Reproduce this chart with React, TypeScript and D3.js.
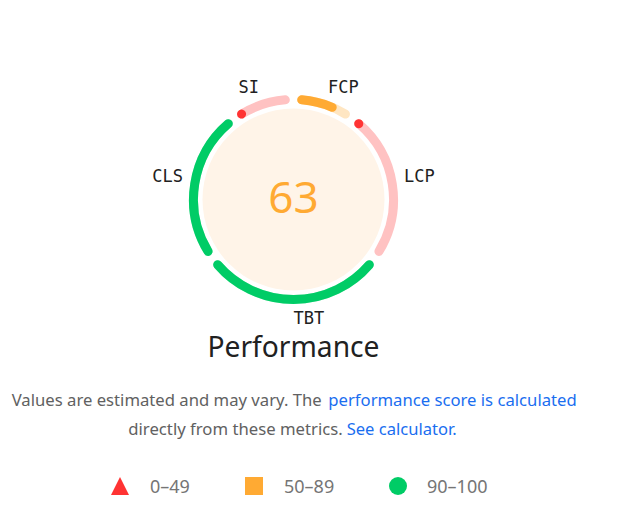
import * as d3 from "d3";

// metric order clockwise from 12 o'clock
const METRICS = ["FCP", "LCP", "TBT", "CLS", "SI"];
const WEIGHTS = [0.1, 0.25, 0.3, 0.25, 0.1];
const SCORES = [0.68, 0, 1, 1, 0];
const CATEGORY_SCORE = 63;
const CATEGORY_TITLE = "Performance";
const LEGEND_LABELS = ["0–49", "50–89", "90–100"];
const LEGEND_SHAPES = ["triangle", "square", "circle"];

const W = 631;
const H = 523;
const CX = 293.5;
const CY = 199.5;
const R_ARC = 100;
const STROKE = 9;
const R_FILL = 91;
const R_LABEL = 112;
const GAP = (4.7 * Math.PI) / 180;

const RED = "#ff3333";
const ORANGE = "#ffaa33";
const GREEN = "#00cc66";
const BLUE = "#1a6ef0";
const GRAY = "#616161";

const colorFor = (s: number) => (s >= 0.9 ? GREEN : s >= 0.5 ? ORANGE : RED);
const lighten = (c: string) => d3.interpolateRgb("#ffffff", c)(0.3);

const angle = d3.scaleLinear().domain([0, 1]).range([0, 2 * Math.PI]);

// angle measured clockwise from top
function arcPath(a0: number, a1: number) {
  const p = d3.path();
  p.arc(CX, CY, R_ARC, a0 - Math.PI / 2, a1 - Math.PI / 2, false);
  return p.toString();
}

const FONT = "'Noto Sans', 'Segoe UI', sans-serif";
const MONO = "'DejaVu Sans Mono', monospace";

// legend layout (icon centre x, text start x)
const LEGEND_X = [120, 254, 398];
const LEGEND_TEXT_X = [150, 284, 427];
const LEGEND_Y = 486;

export default function App() {
  const starts = [0, ...Array.from(d3.cumsum(WEIGHTS))];
  const segs = METRICS.map((m, i) => {
    const a0 = angle(starts[i]) + GAP;
    const a1 = angle(starts[i + 1]) - GAP;
    const s = SCORES[i];
    const aEnd = a0 + Math.max(0.001, s * (a1 - a0));
    const mid = (angle(starts[i]) + angle(starts[i + 1])) / 2;
    return { m, a0, a1, aEnd, s, color: colorFor(s), mid };
  });
  const scoreColor = colorFor(CATEGORY_SCORE / 100);

  return (
    <svg
      width={W}
      height={H}
      style={{ position: "absolute", left: 0, top: 0, display: "block", background: "#fff" }}
    >
      <circle cx={CX} cy={CY} r={R_FILL} fill="#fff4e8" />
      {segs.map((d) => (
        <g key={d.m} fill="none" strokeLinecap="round" strokeWidth={STROKE}>
          <path d={arcPath(d.a0, d.a1)} stroke={lighten(d.color)} />
          <path d={arcPath(d.a0, d.aEnd)} stroke={d.color} />
        </g>
      ))}
      {segs.map((d) => {
        const sx = Math.sin(d.mid);
        const cy = Math.cos(d.mid);
        return (
          <text
            key={"l" + d.m}
            x={CX + R_LABEL * sx}
            y={CY - R_LABEL * cy}
            dy={cy < 0 ? "0.73em" : 0}
            textAnchor={sx > 0 ? "start" : "end"}
            fontFamily={MONO}
            fontSize={17}
            fill="#212121"
          >
            {d.m}
          </text>
        );
      })}
      <text
        x={CX}
        y={213}
        textAnchor="middle"
        fontFamily={FONT}
        fontSize={44}
        fill={scoreColor}
      >
        {CATEGORY_SCORE}
      </text>
      <text
        x={CX}
        y={357}
        textAnchor="middle"
        fontFamily={FONT}
        fontSize={28.5}
        fill="#212121"
        textLength={172}
        lengthAdjust="spacingAndGlyphs"
      >
        {CATEGORY_TITLE}
      </text>

      <g fontFamily={FONT} fontSize={17}>
        <text x={11.7} y={405.7} fill={GRAY} textLength={310} lengthAdjust="spacingAndGlyphs">
          Values are estimated and may vary. The
        </text>
        <text x={328.3} y={405.7} fill={BLUE} textLength={248.4} lengthAdjust="spacingAndGlyphs">
          performance score is calculated
        </text>
        <text x={128.3} y={435} fill={GRAY} textLength={214.4} lengthAdjust="spacingAndGlyphs">
          directly from these metrics.
        </text>
        <text x={346.7} y={435} fill={BLUE} textLength={110} lengthAdjust="spacingAndGlyphs">
          See calculator.
        </text>
      </g>

      {LEGEND_LABELS.map((lab, i) => {
        const x = LEGEND_X[i];
        const c = [RED, ORANGE, GREEN][i];
        const shape = LEGEND_SHAPES[i];
        return (
          <g key={lab}>
            {shape === "triangle" && (
              <path d={`M${x},${LEGEND_Y - 9}L${x + 9},${LEGEND_Y + 9}L${x - 9},${LEGEND_Y + 9}Z`} fill={c} />
            )}
            {shape === "square" && <rect x={x - 9} y={LEGEND_Y - 9} width={18} height={18} fill={c} />}
            {shape === "circle" && <circle cx={x} cy={LEGEND_Y} r={9} fill={c} />}
            <text
              x={LEGEND_TEXT_X[i]}
              y={LEGEND_Y + 7}
              fontFamily={FONT}
              fontSize={18}
              fill="#757575"
            >
              {lab}
            </text>
          </g>
        );
      })}
    </svg>
  );
}
